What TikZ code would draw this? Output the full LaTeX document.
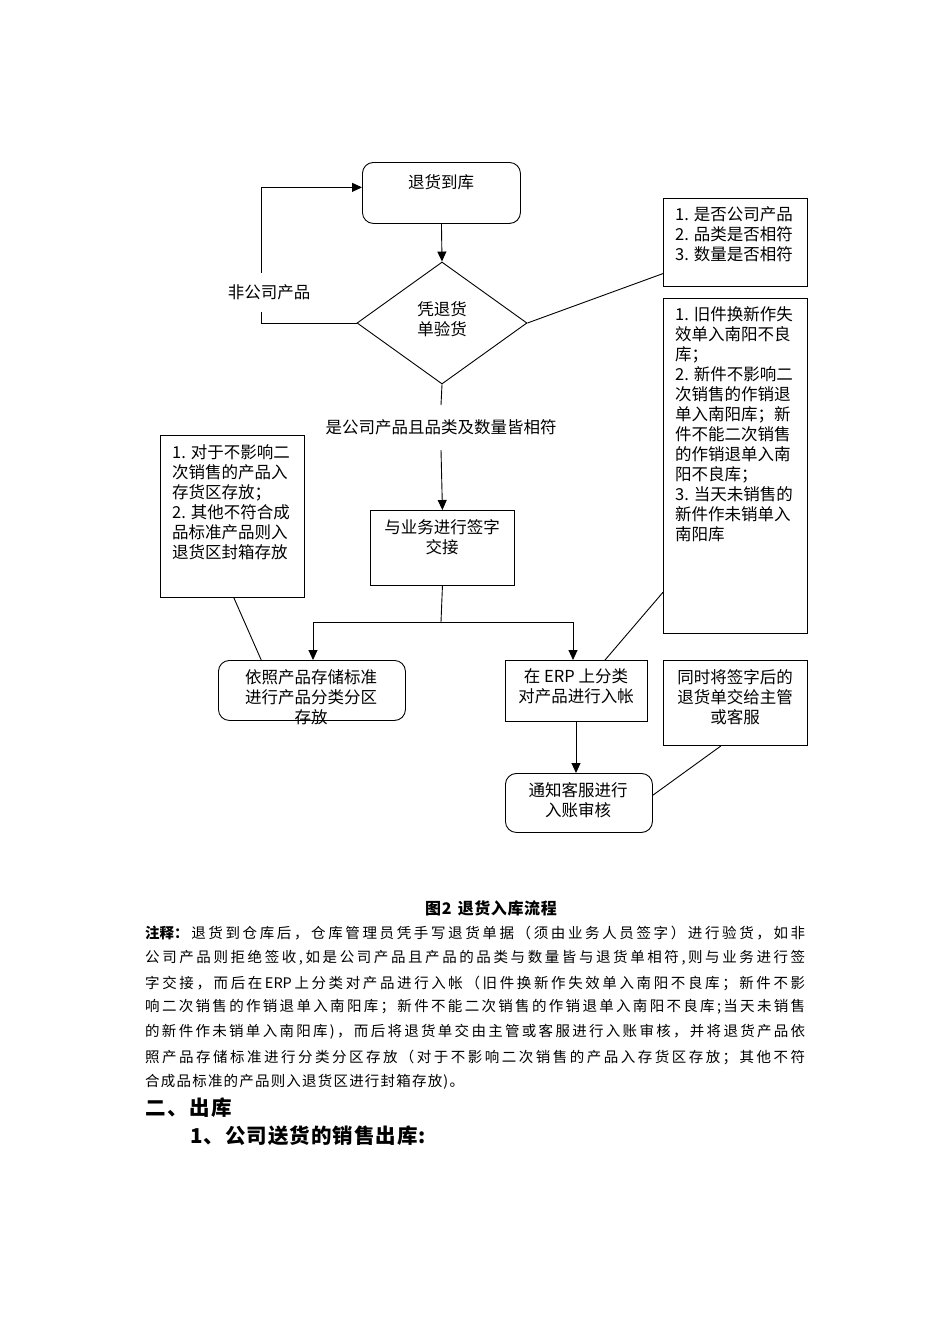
\documentclass[tikz,border=0pt]{standalone}
\usepackage{fontspec}
\newfontfamily\cjk{Noto Sans CJK SC}
\usetikzlibrary{shapes.geometric,arrows.meta,calc}
\def\endspr{\endspr}
\def\spr#1{#1\sprx}
\def\sprx#1{\ifx\endspr#1\else\hskip\sprgap plus 1fil\relax#1\expandafter\sprx\fi}
\newdimen\sprgap \sprgap=1.2pt
\newcommand\dfont{\cjk\fontsize{16.5}{20}\selectfont}
\newcommand\pfont{\cjk\fontsize{14.5}{18}\selectfont}
\tikzset{
  bx/.style={draw, line width=0.9pt, anchor=north west, inner sep=0pt},
  rbx/.style={bx, rounded corners=11pt},
  ctxt/.style={font=\dfont, align=center, inner sep=0pt, anchor=north},
  ltxt/.style={font=\dfont, align=left, inner sep=0pt, anchor=north west},
  ln/.style={line width=0.9pt},
  arr/.style={ln, -{Triangle[length=10pt,width=9pt]}},
  pline/.style={anchor=west, inner sep=0pt, font=\pfont},
}
\begin{document}
\begin{tikzpicture}[x=1pt,y=-1pt]
\useasboundingbox (0,0) rectangle (950,1344);
\fill[white] (0,0) rectangle (950,1344);

% boxes
\node[rbx, minimum width=158pt, minimum height=61pt] (start) at (362,162) {};
\node[ctxt] (starttxt) at (441,174) {退货到库};
\node[draw, diamond, line width=0.9pt, minimum width=170pt, minimum height=122pt, inner sep=0pt] (chk) at (442,323) {};
\node[ctxt] (chktxt) at (442,301) {凭退货\\单验货};
\node[bx, minimum width=144pt, minimum height=88pt] (q1) at (663,198) {};
\node[ltxt] (q1txt) at (675,206) {1. 是否公司产品\\2. 品类是否相符\\3. 数量是否相符};
\node[bx, minimum width=144pt, minimum height=335pt] (q2) at (663,298) {};
\node[ltxt] (q2txt) at (675,306) {1. 旧件换新作失\\效单入南阳不良\\库；\\2. 新件不影响二\\次销售的作销退\\单入南阳库；新\\件不能二次销售\\的作销退单入南\\阳不良库；\\3. 当天未销售的\\新件作未销单入\\南阳库};
\node[font=\dfont, inner sep=0pt] (nc) at (269,292) {非公司产品};
\node[font=\dfont, inner sep=0pt] (yes) at (441,427) {是公司产品且品类及数量皆相符};
\node[bx, minimum width=144pt, minimum height=75pt] (sign) at (370,510) {};
\node[ctxt] (signtxt) at (442,519) {与业务进行签字\\交接};
\node[bx, minimum width=144pt, minimum height=162pt] (lb) at (160,435) {};
\node[ltxt] (lbtxt) at (172,444) {1. 对于不影响二\\次销售的产品入\\存货区存放；\\2. 其他不符合成\\品标准产品则入\\退货区封箱存放};
\node[rbx, minimum width=187pt, minimum height=60pt] (store) at (218,660) {};
\node[ctxt] (storetxt) at (311,669) {依照产品存储标准\\进行产品分类分区\\存放};
\node[bx, minimum width=142pt, minimum height=61pt] (erp) at (505,660) {};
\node[ctxt] (erptxt) at (576,668) {在 ERP 上分类\\对产品进行入帐};
\node[rbx, minimum width=147pt, minimum height=59pt] (notify) at (505,773) {};
\node[ctxt] (notifytxt) at (578,782) {通知客服进行\\入账审核};
\node[bx, minimum width=144pt, minimum height=85pt] (ts) at (663,660) {};
\node[ctxt] (tstxt) at (735,669) {同时将签字后的\\退货单交给主管\\或客服};

% connectors
\draw[arr] (start.south) -- (chk.north);
\coordinate (lp1) at (261,323);
\coordinate (lp2) at (261,312);
\coordinate (lp3) at (261,273);
\draw[ln] (chk.west) -- (lp1) -- (lp2);
\draw[arr] (lp3) |- ($(start.north west)!0.41!(start.south west)$);
\coordinate (y1) at (441,405);
\coordinate (y2) at (441,450);
\draw[ln] (chk.south) -- (y1);
\draw[arr] (y2) -- (sign.north);
\coordinate (sp) at (441,622);
\draw[ln] (sign.south) -- (sp);
\coordinate (spl) at (313,622);
\coordinate (spr) at (573,622);
\draw[ln] (spl) -- (spr);
\draw[arr] (spl) -- (spl |- store.north);
\draw[arr] (spr) -- (spr |- erp.north);
\draw[arr] (erp.south -| 576,0) -- (notify.north -| 576,0);
\draw[ln] (chk.east) -- ($(q1.north west)!0.85!(q1.south west)$);
\draw[ln] ($(q2.north west)!0.876!(q2.south west)$) -- ($(erp.north west)!0.7!(erp.north east)$);
\draw[ln] ($(lb.south west)!0.51!(lb.south east)$) -- ($(store.north west)!0.23!(store.north east)$);
\draw[ln] ($(ts.south west)!0.4!(ts.south east)$) -- ($(notify.north east)!0.37!(notify.south east)$);

% caption and notes
\node[inner sep=0pt, font=\cjk\bfseries\fontsize{16}{18}\selectfont] (cap) at (491,908) {\sprgap=0.6pt\spr 图2{\hskip5pt}退货入库流程\endspr};
\node[pline] (p1) at (145,933) {\makebox[660pt][s]{\spr {{\bfseries 注释：}}退货到仓库后，仓库管理员凭手写退货单据（须由业务人员签字）进行验货，如非\endspr}};
\node[pline] (p2) at (145,958) {\makebox[660pt][s]{\spr 公司产品则拒绝签收,如是公司产品且产品的品类与数量皆与退货单相符,则与业务进行签\endspr}};
\node[pline] (p3) at (145,983) {\makebox[660pt][s]{\spr 字交接，而后在{ERP}上分类对产品进行入帐（旧件换新作失效单入南阳不良库；新件不影\endspr}};
\node[pline] (p4) at (145,1007) {\makebox[660pt][s]{\spr 响二次销售的作销退单入南阳库；新件不能二次销售的作销退单入南阳不良库;当天未销售\endspr}};
\node[pline] (p5) at (145,1032) {\makebox[660pt][s]{\spr 的新件作未销单入南阳库)，而后将退货单交由主管或客服进行入账审核，并将退货产品依\endspr}};
\node[pline] (p6) at (145,1057) {\makebox[660pt][s]{\spr 照产品存储标准进行分类分区存放（对于不影响二次销售的产品入存货区存放；其他不符\endspr}};
\node[pline] (p7) at (145,1082) {\spr 合成品标准的产品则入退货区进行封箱存放)。\endspr};
\node[anchor=west, inner sep=0pt, font=\cjk\bfseries\fontsize{20.5}{24}\selectfont] (h1) at (145,1108) {\sprgap=1.5pt\spr 二、出库\endspr};
\node[anchor=west, inner sep=0pt, font=\cjk\bfseries\fontsize{20.5}{24}\selectfont] (h2) at (190,1136) {\sprgap=1pt\spr 1、公司送货的销售出库:\endspr};
\end{tikzpicture}
\end{document}
